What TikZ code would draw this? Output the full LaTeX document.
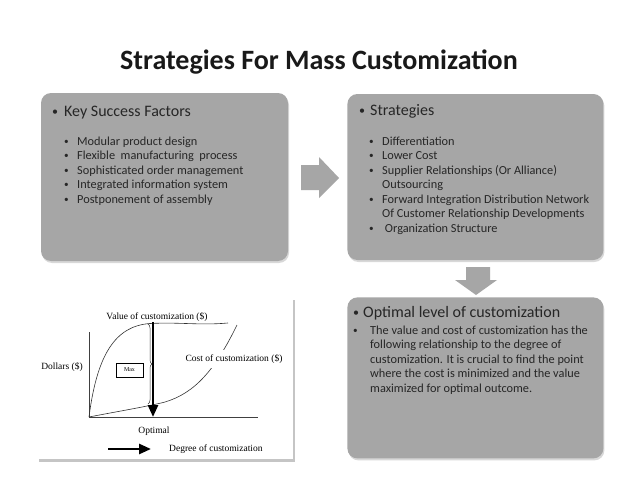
\documentclass[tikz,border=0pt]{standalone}
\usepackage{fontspec}
\setmainfont{Carlito}
\newfontfamily\chartfont{Liberation Serif}
\usetikzlibrary{positioning,shadows,decorations.pathreplacing,arrows.meta}

\definecolor{boxgray}{RGB}{166,166,166}
\definecolor{inkgray}{RGB}{38,38,38}

% small bullet, and one bullet line with hanging indent
\newcommand{\smbul}{\raisebox{.12ex}{\scalebox{.75}{\textbullet}}}
\newcommand{\bitem}[2]{\par\noindent\hangindent=#1\hangafter=1\makebox[#1][l]{\smbul}#2}

\begin{document}
\begin{tikzpicture}[
      x=1pt, y=-1pt,
      box/.style={fill=boxgray, rounded corners=10pt, inner sep=0pt,
        drop shadow={opacity=.3, shadow xshift=1pt, shadow yshift=-2pt}},
      blockarrow/.style={fill=boxgray, draw=none},
      hd/.style={text=inkgray, inner sep=0pt, anchor=base west, font=\fontsize{16}{19}\selectfont},
      lst/.style={text=inkgray, inner sep=0pt, anchor=base west, font=\fontsize{12.3}{14.5}\selectfont},
      chartlbl/.style={inner sep=0pt, font=\chartfont\fontsize{9.5}{11}\selectfont},
      thickarrow/.style={line width=2.6pt, -{Triangle[width=10pt,length=12pt]}}]

    % background & page size
    \fill[white] (0,0) rectangle (638,479);
    \useasboundingbox (0,0) rectangle (638,479);

    % title
    \node[anchor=base, inner sep=0pt, text=black!90, font=\fontsize{28}{32}\selectfont\bfseries]
      (title) at (319,69) {Strategies For Mass Customization};

    % boxes
    \node[box, minimum width=247pt, minimum height=168pt] (ksf) at (164.5,177) {};
    \node[box, minimum width=256pt, minimum height=166pt, right=59pt of ksf] (strat) {};
    \node[box, minimum width=256pt, minimum height=161pt, below=37pt of strat] (optlvl) {};
    \node[fill=white, minimum width=256pt, minimum height=162pt, inner sep=0pt,
      drop shadow={opacity=.45, shadow xshift=2pt, shadow yshift=-3pt},
      left=54pt of optlvl] (chart) {};

    % block arrows
    \fill[blockarrow] (301,165) -- (319,165) -- (319,157) -- (339,178)
      -- (319,198) -- (319,190) -- (301,190) -- cycle;
    \fill[blockarrow] (466,267) -- (490,267) -- (490,280) -- (497,280)
      -- (476,295) -- (455,280) -- (466,280) -- cycle;

    % key success factors
    \node[hd] (ksfhead) at (52,116) {\makebox[12pt][l]{\smbul}Key Success Factors};
    \node[lst] (ksflist) at (64,145) {\parbox[t]{215pt}{%
      \bitem{13pt}{Modular product design}
      \bitem{13pt}{Flexible\ \ manufacturing\ \ process}
      \bitem{13pt}{Sophisticated order management}
      \bitem{13pt}{Integrated information system}
      \bitem{13pt}{Postponement of assembly}}};

    % strategies
    \node[hd] (strathead) at (359,115) {\makebox[11pt][l]{\smbul}Strategies};
    \node[lst] (stratlist) at (369,145) {\parbox[t]{228pt}{%
      \bitem{13pt}{Differentiation}
      \bitem{13pt}{Lower Cost}
      \bitem{13pt}{Supplier Relationships (Or Alliance)\newline Outsourcing}
      \bitem{13pt}{Forward Integration Distribution Network\newline Of Customer Relationship Developments}
      \bitem{13pt}{\ Organization Structure}}};

    % optimal level
    \node[hd] (opthead) at (353,317) {\makebox[10pt][l]{\smbul}Optimal level of customization};
    \node[lst] (optbody) at (353,334) {\parbox[t]{245pt}{%
      \bitem{17pt}{The value and cost of customization has the\newline
        following relationship to the degree of\newline
        customization. It is crucial to find the point\newline
        where the cost is minimized and the value\newline
        maximized for optimal outcome.}}};

    % chart: axes and curves
    \draw[black!75, line width=.7pt] (89,332) -- (89,417) -- (258,417);
    \draw[black!80, line width=.6pt] (89,417) .. controls (97,355) and (115,326) .. (150,323.5)
      .. controls (180,322) and (200,325.5) .. (228,323);
    \draw[black!80, line width=.6pt] (89,417) .. controls (120,411) and (150,406) .. (165,402)
      .. controls (195,393) and (215,370) .. (237,325);

    \coordinate (opttop) at (153,322);
    \coordinate (optbot) at (153,417);
    \coordinate (bracetop) at (148,324);
    \coordinate (bracebot) at (148,404);
    \draw[thickarrow] (opttop) -- (optbot);
    \draw[black!80, line width=.5pt, decorate, decoration={brace, amplitude=4pt}] (bracetop) -- (bracebot);

    \node[draw, line width=.5pt, minimum width=27pt, minimum height=14pt, inner sep=0pt,
      font=\chartfont\fontsize{6}{7}\selectfont] (max) at (129.5,370) {Max};

    \node[chartlbl] (valuelbl) at (157,317) {Value of customization (\$)};
    \node[chartlbl] (dollars) at (62,367) {Dollars (\$)};
    \node[chartlbl, fill=white, inner ysep=5pt, inner xsep=1pt] (costlbl) at (234,359) {Cost of customization (\$)};
    \node[chartlbl] (optimal) at (154,431) {Optimal};
    \node[chartlbl, anchor=west] (degree) at (169,449) {Degree of customization};

    \coordinate (degstart) at (108,449);
    \coordinate (degend) at (151,449);
    \draw[thickarrow] (degstart) -- (degend);

  \end{tikzpicture}
\end{document}
